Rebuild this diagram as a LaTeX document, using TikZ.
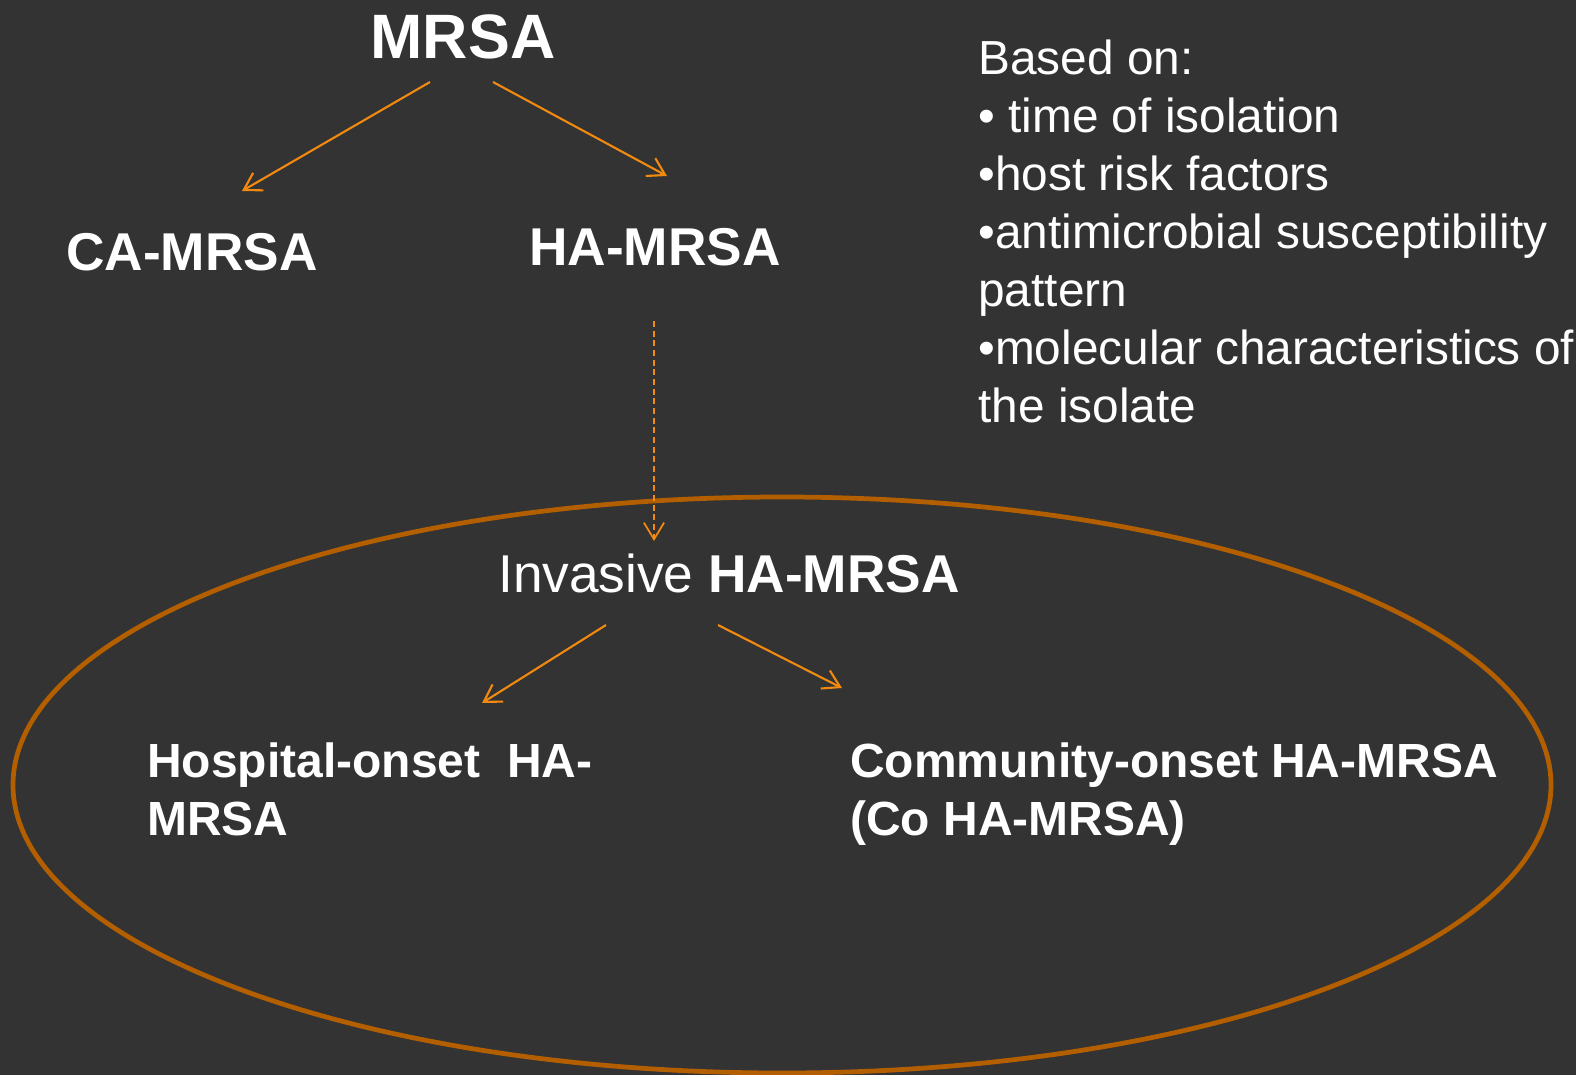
\documentclass[tikz,border=0pt]{standalone}
\usepackage{fontspec}
\setmainfont{Liberation Sans}
\usetikzlibrary{arrows.meta,positioning}
\definecolor{slidebg}{HTML}{333333}
\definecolor{arroworange}{HTML}{F28A10}
\definecolor{ringorange}{HTML}{B35F00}
\tikzset{
  >={Straight Barb[length=9.5pt,width=11.5pt]},
  every node/.style={text=white,inner sep=0pt},
  title/.style={font=\fontsize{35.7}{42}\selectfont\bfseries},
  kind/.style={font=\fontsize{30.3}{36}\selectfont\bfseries},
  onset/.style={font=\fontsize{27.3}{33}\selectfont\bfseries,align=left},
  basis/.style={font=\fontsize{27.2}{33}\selectfont,align=left},
  arrow/.style={->,line width=1.2pt,draw=arroworange},
  dasharr/.style={arrow,line width=1pt,dash pattern=on 3.5pt off 2pt},
  ring/.style={draw=ringorange,line width=2.7pt}
}

\begin{document}
\begin{tikzpicture}[x=0.02cm,y=-0.02cm]
  \fill[slidebg] (0,0) rectangle (1576,1075);
  \useasboundingbox (0,0) rectangle (1576,1075);

  \node[title] (mrsa) at (463,37) {MRSA};
  \node[kind] (ca) at (192,252) {CA-MRSA};
  \node[kind] (ha) at (655,247) {HA-MRSA};
  \node[basis,anchor=north west] (basis) at (978,40)
    {Based on:\\• time of isolation\\•host risk factors\\•antimicrobial susceptibility\\pattern\\•molecular characteristics of\\the isolate};

  \node[kind,font=\fontsize{30.3}{36}\selectfont] (inv) at (729,573) {Invasive \textbf{HA-MRSA}};
  \node[onset,anchor=north west] (hosp) at (147,742) {Hospital-onset\ \ HA-\\MRSA};
  \node[onset,anchor=north west] (comm) at (850,742) {Community-onset HA-MRSA\\(Co HA-MRSA)};

  \draw[ring] (782,785) ellipse [x radius=769, y radius=288];

  % arrow ends
  \coordinate (mrsaL) at (430,82);
  \coordinate (mrsaR) at (493,82);
  \coordinate (caTop) at (242,191);
  \coordinate (haTop) at (667,176);
  \coordinate (haBot) at (654,321);
  \coordinate (invTop) at (654,541);
  \coordinate (invL) at (606,625);
  \coordinate (invR) at (718,625);
  \coordinate (hospTop) at (482,703);
  \coordinate (commTop) at (842,688);

  \draw[arrow] (mrsaL) -- (caTop);
  \draw[arrow] (mrsaR) -- (haTop);
  \draw[dasharr] (haBot) -- (invTop);
  \draw[arrow] (invL) -- (hospTop);
  \draw[arrow] (invR) -- (commTop);
\end{tikzpicture}
\end{document}
